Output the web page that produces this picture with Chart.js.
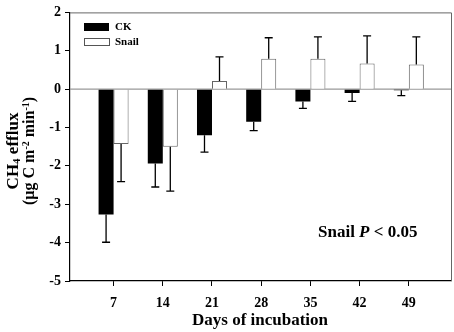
<!DOCTYPE html>
<html>
<head>
<meta charset="UTF-8">
<title>CH4 efflux</title>
<script src="https://cdn.jsdelivr.net/npm/chart.js@4"></script>
<style>
  body { margin:0; background:#fff; }
  #wrap { width:454px; height:332px; }
</style>
</head>
<body>
<div id="wrap"><canvas id="c" width="454" height="332"></canvas></div>
<script>
const days = [7, 14, 21, 28, 35, 42, 49];
const ck = [-3.27, -1.94, -1.20, -0.85, -0.32, -0.10, -0.03];
const ckErr = [0.72, 0.61, 0.44, 0.23, 0.18, 0.22, 0.14];
const snail = [-1.43, -1.50, 0.21, 0.79, 0.79, 0.67, 0.64];
const snailErr = [0.98, 1.16, 0.63, 0.55, 0.57, 0.72, 0.72];
const yTicks = [2, 1, 0, -1, -2, -3, -4, -5];

const SERIF = "'Liberation Serif','Times New Roman',serif";
const errs = [ckErr, snailErr];

// frame, zero line, legend, stats note, axis titles
const extras = {
  id: "extras",
  beforeDatasetsDraw(chart) {
    const {ctx, chartArea: a, scales: {y}} = chart;
    const y0 = y.getPixelForValue(0);
    ctx.save();
    ctx.strokeStyle = "#999"; ctx.lineWidth = 1.2;
    ctx.beginPath(); ctx.moveTo(a.left, y0); ctx.lineTo(a.right, y0); ctx.stroke();
    ctx.restore();
  },
  afterDatasetsDraw(chart) {
    const {ctx, chartArea: a, scales: {y}} = chart;
    ctx.save();
    // error bars (outer side only)
    ctx.strokeStyle = "#000"; ctx.lineWidth = 1.3;
    chart.data.datasets.forEach((ds, di) => {
      chart.getDatasetMeta(di).data.forEach((el, i) => {
        const v = ds.data[i].y, e = errs[di][i];
        const end = y.getPixelForValue(v + (v < 0 ? -e : e));
        const start = y.getPixelForValue(v);
        ctx.beginPath();
        ctx.moveTo(el.x, start); ctx.lineTo(el.x, end);
        ctx.moveTo(el.x - 4, end); ctx.lineTo(el.x + 4, end);
        ctx.stroke();
      });
    });
    // top & right frame
    ctx.strokeStyle = "#666"; ctx.lineWidth = 1;
    ctx.beginPath();
    ctx.moveTo(a.left, a.top + 0.5); ctx.lineTo(a.right + 0.5, a.top + 0.5); ctx.lineTo(a.right + 0.5, a.bottom);
    ctx.stroke();
    // legend
    ctx.fillStyle = "#000";
    ctx.fillRect(84, 23, 25, 8);
    ctx.fillStyle = "#fff"; ctx.strokeStyle = "#555";
    ctx.fillRect(84, 38, 25, 7); ctx.strokeRect(84.5, 38.5, 25, 7);
    ctx.fillStyle = "#000";
    ctx.font = "bold 11px " + SERIF;
    ctx.textBaseline = "middle"; ctx.textAlign = "left";
    ctx.fillText(chart.data.datasets[0].label, 115, 27.5);
    ctx.fillText(chart.data.datasets[1].label, 115, 42);
    // stats note
    ctx.textBaseline = "alphabetic";
    let x = 318;
    const parts = [["Snail ", "bold"], ["P", "italic bold"], [" < 0.05", "bold"]];
    parts.forEach(([t, f]) => {
      ctx.font = f + " 17px " + SERIF;
      ctx.fillText(t, x, 237);
      x += ctx.measureText(t).width;
    });
    // x title
    ctx.font = "bold 17px " + SERIF;
    ctx.textAlign = "center"; ctx.textBaseline = "middle";
    ctx.fillText("Days of incubation", 260, 321);
    // y title
    drawRich(ctx, [["CH", 0], ["4", 1], [" efflux", 0]], 18, 151, 17);
    drawRich(ctx, [["(\u00b5g C m", 0], ["-2", -1], [" min", 0], ["-1", -1], [")", 0]], 34, 151, 16);
    ctx.restore();
  }
};

// rotated text with sub(1)/super(-1) scripts, centred at (cx, cy)
function drawRich(ctx, parts, cx, cy, size) {
  ctx.save();
  ctx.translate(cx, cy);
  ctx.rotate(-Math.PI / 2);
  const fontFor = s => "bold " + (s ? Math.round(size * 0.65) : size) + "px " + SERIF;
  let w = 0;
  parts.forEach(([t, s]) => { ctx.font = fontFor(s); w += ctx.measureText(t).width; });
  let x = -w / 2;
  ctx.textAlign = "left"; ctx.textBaseline = "alphabetic";
  parts.forEach(([t, s]) => {
    ctx.font = fontFor(s);
    const dy = s === 1 ? size * 0.12 : s === -1 ? -size * 0.33 : 0;
    ctx.fillText(t, x, dy);
    x += ctx.measureText(t).width;
  });
  ctx.restore();
}

new Chart(document.getElementById("c"), {
  type: "bar",
  data: {
    datasets: [
      { label: "CK", data: days.map((d, i) => ({x: d, y: ck[i]})),
        backgroundColor: "#000", borderColor: "#000", borderWidth: 0 },
      { label: "Snail", data: days.map((d, i) => ({x: d, y: snail[i]})),
        backgroundColor: "#fff", borderColor: "#666", borderWidth: 1 }
    ]
  },
  options: {
    responsive: false,
    animation: false,
    layout: { padding: { top: 9, right: 3, left: 0, bottom: 0 } },
    datasets: { bar: { categoryPercentage: 0.61, barPercentage: 1 } },
    plugins: { legend: { display: false }, tooltip: { enabled: false } },
    scales: {
      x: {
        type: "linear", min: 0.8, max: 55, offset: false,
        afterBuildTicks: s => { s.ticks = days.map(v => ({value: v})); },
        afterFit: s => { s.height = 51; },
        grid: { drawOnChartArea: false, offset: false, tickLength: 5, color: "#000" },
        border: { color: "#000", width: 1.2 },
        ticks: { color: "#000", font: { family: SERIF, size: 14, weight: "bold" }, padding: 9 }
      },
      y: {
        min: -5, max: 2,
        afterBuildTicks: s => { s.ticks = yTicks.map(v => ({value: v})); },
        afterFit: s => { s.width = 70; },
        grid: { drawOnChartArea: false, tickLength: 5, color: "#000" },
        border: { color: "#000", width: 1.2 },
        ticks: { color: "#000", font: { family: SERIF, size: 14, weight: "bold" }, padding: 4 }
      }
    }
  },
  plugins: [extras]
});
</script>
</body>
</html>
